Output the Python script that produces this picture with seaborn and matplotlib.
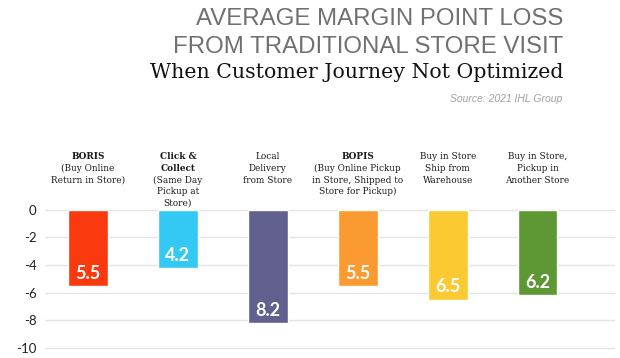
import matplotlib
matplotlib.use("Agg")
import matplotlib.pyplot as plt
import seaborn as sns
import pandas as pd

# Data
categories = ["BORIS", "Click & Collect", "Local Delivery", "BOPIS", "Ship from Warehouse", "Pickup Another Store"]
losses = [5.5, 4.2, 8.2, 5.5, 6.5, 6.2]
colors = ["#fa3a0e", "#34c8f5", "#61608f", "#fb9a30", "#fbc931", "#5e9834"]
label_lines = [
    ["BORIS", "(Buy Online", "Return in Store)"],
    ["Click &", "Collect", "(Same Day", "Pickup at", "Store)"],
    ["Local", "Delivery", "from Store"],
    ["BOPIS", "(Buy Online Pickup", "in Store, Shipped to", "Store for Pickup)"],
    ["Buy in Store", "Ship from", "Warehouse"],
    ["Buy in Store,", "Pickup in", "Another Store"],
]
bold_lines = [1, 2, 0, 1, 0, 0]
yticks = [0, -2, -4, -6, -8, -10]

df = pd.DataFrame({"category": categories, "value": [-v for v in losses]})

sns.set_style("white")
fig = plt.figure(figsize=(6.2, 3.58), dpi=100)
ax = fig.add_axes([45 / 620, 6 / 358, 570 / 620, 147 / 358])

sns.barplot(data=df, x="category", y="value", hue="category", palette=colors,
            legend=False, width=0.44, saturation=1, ax=ax)

ax.set_xlim(-0.478, 5.86)
ax.set_ylim(-10.3, 0.35)
ax.set_yticks(yticks)
ax.set_yticklabels([str(t) for t in yticks], fontsize=9.5, color="#222222", family="Lato")
ax.yaxis.grid(True, color="#e4e4e4", linewidth=1)
ax.set_axisbelow(True)
ax.tick_params(axis="y", length=0, pad=6)
ax.set_xticks([])
ax.set_xlabel("")
ax.set_ylabel("")
for s in ax.spines.values():
    s.set_visible(False)

# value labels inside bars
for i, v in enumerate(losses):
    ax.annotate(f"{v}", xy=(i, -v), xytext=(0, 3), textcoords="offset points",
                ha="center", va="bottom", color="white", fontsize=13,
                family="Lato", fontweight="bold")

# category labels above the plot
for i, lines in enumerate(label_lines):
    for j, line in enumerate(lines):
        ax.annotate(line, xy=(i, 1), xycoords=("data", "axes fraction"),
                    xytext=(0, 38 - j * 8.4), textcoords="offset points",
                    ha="center", va="top", fontsize=6.4, family="DejaVu Serif",
                    color="#1a1a1a", fontweight="bold" if j < bold_lines[i] else "normal")

# titles
fig.text(563 / 620, 1 - 25 / 358, "AVERAGE MARGIN POINT LOSS", ha="right", va="baseline",
         fontsize=17.3, family="Liberation Sans", color="#707070")
fig.text(563 / 620, 1 - 53 / 358, "FROM TRADITIONAL STORE VISIT", ha="right", va="baseline",
         fontsize=17.3, family="Liberation Sans", color="#707070")
fig.text(563 / 620, 1 - 78 / 358, "When Customer Journey Not Optimized", ha="right", va="baseline",
         fontsize=14.8, family="DejaVu Serif", color="#111111")
fig.text(562 / 620, 1 - 102 / 358, "Source: 2021 IHL Group", ha="right", va="baseline",
         fontsize=7.5, family="Liberation Sans", style="italic", color="#a0a0a0")

fig.savefig("out.png", dpi=100)
